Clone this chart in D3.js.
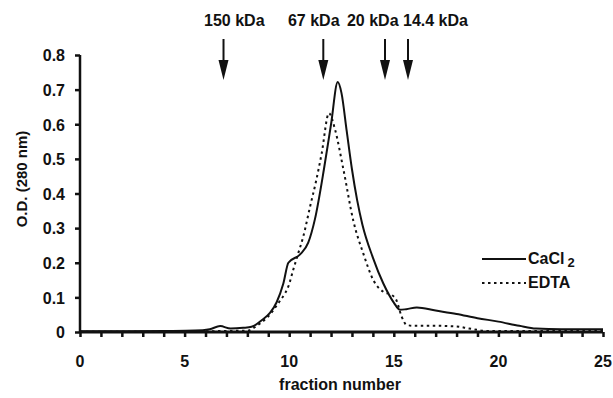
<!DOCTYPE html>
<html><head><meta charset="utf-8">
<script src="https://cdn.jsdelivr.net/npm/d3@7"></script>
<style>body{margin:0;background:#fff}svg{display:block}text{font-family:"Liberation Sans",Arial,sans-serif;font-weight:bold;fill:#111}</style>
</head><body><svg id="c" width="613" height="398"></svg>
<script>
const caFrac = [0, 2, 4, 5.5, 6.2, 6.7, 7.2, 7.8, 8.2, 8.75, 9.08, 9.4, 9.72, 9.96, 10.52, 10.91, 11.23, 11.66, 12.0, 12.32, 12.5, 12.75, 13.0, 13.25, 13.5, 14.0, 14.5, 15.0, 15.3, 15.6, 16.1, 17, 18, 19, 20, 21, 21.8, 23, 25];
const caOD   = [0.002, 0.002, 0.003, 0.004, 0.008, 0.017, 0.01, 0.012, 0.015, 0.037, 0.055, 0.086, 0.14, 0.2, 0.224, 0.258, 0.326, 0.47, 0.6, 0.722, 0.69, 0.58, 0.47, 0.38, 0.31, 0.215, 0.14, 0.085, 0.064, 0.066, 0.071, 0.062, 0.052, 0.04, 0.03, 0.018, 0.01, 0.008, 0.008];
const edFrac = [0, 4, 6, 7, 8, 8.5, 9, 9.5, 9.8, 9.95, 10.19, 10.43, 10.67, 10.99, 11.3, 11.55, 11.9, 12.19, 12.59, 13.07, 13.54, 14.02, 14.5, 14.9, 15.1, 15.38, 15.62, 16, 17, 18, 18.6, 19.5, 25];
const edOD   = [0.001, 0.001, 0.002, 0.003, 0.004, 0.02, 0.045, 0.085, 0.112, 0.13, 0.179, 0.227, 0.275, 0.36, 0.44, 0.515, 0.632, 0.585, 0.47, 0.32, 0.227, 0.15, 0.116, 0.107, 0.095, 0.044, 0.02, 0.018, 0.018, 0.016, 0.01, 0.003, 0.003];
const markerFrac = [6.86, 11.63, 14.58, 15.68];
const markerLabels = ["150 kDa", "67 kDa", "20 kDa", "14.4 kDa"];
const markerLabelStart = [5.93, 9.94, 12.76, 15.44];
const xTicks = [0, 5, 10, 15, 20, 25];
const yTicks = [0, 0.1, 0.2, 0.3, 0.4, 0.5, 0.6, 0.7, 0.8];
const seriesNames = ["CaCl", "EDTA"];

const svg = d3.select("#c");
const x = d3.scaleLinear().domain([0, 25]).range([80, 603]);
const y = d3.scaleLinear().domain([0, 0.8]).range([332, 55]);

// axes
const yAx = svg.append("g").attr("transform", "translate(80,0)")
  .call(d3.axisLeft(y).tickValues(yTicks).tickSize(5).tickPadding(10).tickFormat(d => d === 0 ? "0" : d3.format(".1f")(d)));
yAx.select(".domain").attr("stroke", "#111").attr("stroke-width", 2.5).attr("d", `M0,${y(0.8)}V${y(0)}`);
yAx.selectAll(".tick line").attr("stroke", "#111").attr("stroke-width", 2.5);
yAx.selectAll("text").style("font-size", "16px").style("font-family", '"Liberation Sans",Arial,sans-serif').style("font-weight", "bold").attr("fill", "#111").attr("dy", "0.36em");

const xMinor = svg.append("g").attr("transform", `translate(0,${y(0)})`)
  .call(d3.axisBottom(x).tickValues(d3.range(0, 26)).tickSize(5).tickFormat(""));
xMinor.select(".domain").attr("stroke", "#111").attr("stroke-width", 3).attr("d", `M${x(0)},0H${x(25)}`);
xMinor.selectAll(".tick line").attr("stroke", "#111").attr("stroke-width", 2.5);

svg.append("g").selectAll("text").data(xTicks).join("text")
  .attr("x", d => x(d)).attr("y", y(0) + 35).attr("text-anchor", "middle")
  .style("font-size", "16px").text(d => d);

svg.append("text").attr("x", 340).attr("y", 390).attr("text-anchor", "middle")
  .style("font-size", "16px").text("fraction number");
svg.append("text").attr("transform", "translate(27,179) rotate(-90)").attr("text-anchor", "middle")
  .style("font-size", "15px").text("O.D. (280 nm)");

// curves
const line = d3.line().curve(d3.curveMonotoneX);
svg.append("path").attr("d", line(edFrac.map((f, i) => [x(f), y(edOD[i])])))
  .attr("fill", "none").attr("stroke", "#111").attr("stroke-width", 2).attr("stroke-dasharray", "2.5,3.5");
svg.append("path").attr("d", line(caFrac.map((f, i) => [x(f), y(caOD[i])])))
  .attr("fill", "none").attr("stroke", "#111").attr("stroke-width", 2);

// markers
const mg = svg.append("g");
markerFrac.forEach((f, i) => {
  const cx = x(f);
  mg.append("line").attr("x1", cx).attr("x2", cx).attr("y1", 39).attr("y2", 64).attr("stroke", "#111").attr("stroke-width", 2);
  mg.append("path").attr("d", `M${cx - 5},60L${cx + 5},60L${cx},80Z`).attr("fill", "#111");
  mg.append("text").attr("x", x(markerLabelStart[i])).attr("y", 26).attr("text-anchor", "start")
    .style("font-size", "16px").text(markerLabels[i]);
});

// legend
const lg = svg.append("g");
lg.append("line").attr("x1", 482).attr("x2", 526).attr("y1", 259).attr("y2", 259).attr("stroke", "#111").attr("stroke-width", 2);
const t1 = lg.append("text").attr("x", 528).attr("y", 264).style("font-size", "16px");
t1.append("tspan").text(seriesNames[0]);
t1.append("tspan").attr("dx", 3).attr("dy", 3).style("font-size", "13px").text("2");
lg.append("line").attr("x1", 482).attr("x2", 526).attr("y1", 283).attr("y2", 283).attr("stroke", "#111").attr("stroke-width", 2).attr("stroke-dasharray", "2.5,3.5");
lg.append("text").attr("x", 528).attr("y", 288).style("font-size", "16px").text(seriesNames[1]);
</script></body></html>
